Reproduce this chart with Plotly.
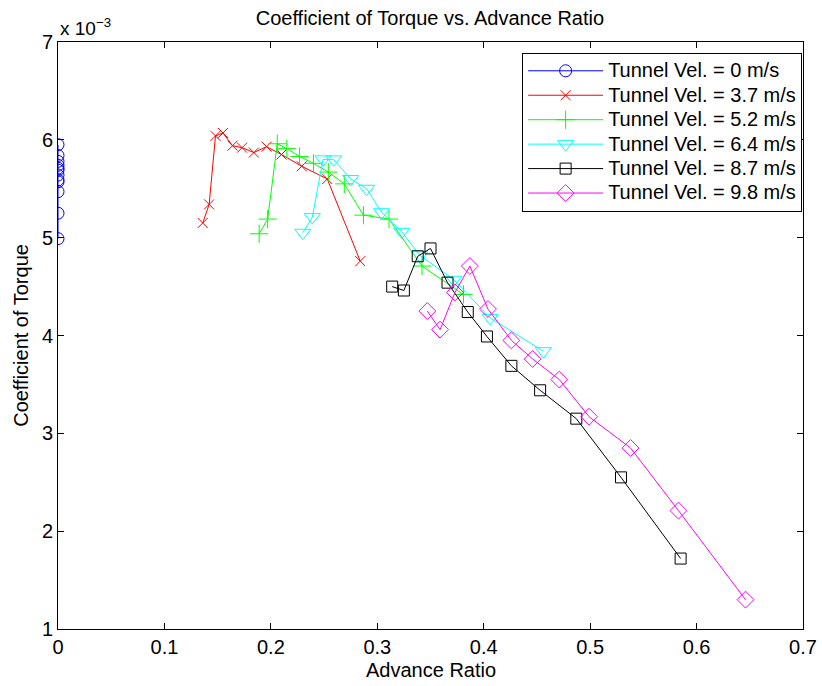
import plotly.graph_objects as go

# Advance ratio (x) and coefficient of torque (y, in units of 1e-3)
adv_0 = [0.0, 0.0, 0.0, 0.0, 0.0, 0.0, 0.0, 0.0, 0.0, 0.0, 0.0, 0.0]
cq_0 = [5.95, 5.84, 5.78, 5.74, 5.71, 5.69, 5.64, 5.59, 5.57, 5.47, 5.25, 4.99]

adv_37 = [0.136, 0.142, 0.148, 0.155, 0.164, 0.173, 0.184, 0.196, 0.210, 0.229, 0.253, 0.284]
cq_37 = [5.15, 5.34, 6.04, 6.07, 5.94, 5.92, 5.87, 5.93, 5.85, 5.73, 5.60, 4.76]

adv_52 = [0.189, 0.197, 0.206, 0.215, 0.227, 0.240, 0.254, 0.269, 0.287, 0.311, 0.342, 0.381]
cq_52 = [5.04, 5.19, 5.96, 5.91, 5.83, 5.76, 5.67, 5.55, 5.23, 5.19, 4.71, 4.42]

adv_64 = [0.230, 0.239, 0.249, 0.259, 0.275, 0.290, 0.304, 0.323, 0.340, 0.372, 0.406, 0.456]
cq_64 = [5.05, 5.21, 5.80, 5.80, 5.60, 5.50, 5.26, 5.06, 4.82, 4.57, 4.18, 3.84]

adv_87 = [0.314, 0.325, 0.338, 0.350, 0.366, 0.385, 0.403, 0.426, 0.453, 0.487, 0.529, 0.585]
cq_87 = [4.50, 4.46, 4.81, 4.89, 4.54, 4.24, 3.99, 3.69, 3.44, 3.15, 2.55, 1.72]

adv_98 = [0.347, 0.359, 0.373, 0.387, 0.404, 0.426, 0.446, 0.471, 0.499, 0.538, 0.583, 0.646]
cq_98 = [4.25, 4.06, 4.44, 4.71, 4.27, 3.95, 3.76, 3.55, 3.17, 2.85, 2.21, 1.30]

names = ["Tunnel Vel. = 0 m/s", "Tunnel Vel. = 3.7 m/s", "Tunnel Vel. = 5.2 m/s",
         "Tunnel Vel. = 6.4 m/s", "Tunnel Vel. = 8.7 m/s", "Tunnel Vel. = 9.8 m/s"]

FONT = "Liberation Sans, Arial, Helvetica, sans-serif"

series = [
    (adv_0, cq_0, "#0000FF", "circle-open", 12),
    (adv_37, cq_37, "#FF0000", "x-thin-open", 10),
    (adv_52, cq_52, "#00FF00", "cross-thin-open", 13),
    (adv_64, cq_64, "#00FFFF", "triangle-down-open", 14),
    (adv_87, cq_87, "#000000", "square-open", 11),
    (adv_98, cq_98, "#FF00FF", "diamond-open", 13),
]

fig = go.Figure()
for (xs, ys, col, sym, sz), nm in zip(series, names):
    fig.add_trace(go.Scatter(
        x=xs, y=ys, mode="lines+markers",
        name="<span style='font-size:20px'>" + nm + "</span>",
        line=dict(color=col, width=1),
        marker=dict(symbol=sym, size=sz, color=col, line=dict(color=col, width=1)),
    ))

fig.update_layout(
    width=822, height=686,
    margin=dict(l=58, r=19, t=42, b=57, autoexpand=False),
    paper_bgcolor="white", plot_bgcolor="white",
    font=dict(family=FONT, size=20, color="black"),
    title=dict(text="Coefficient of Torque vs. Advance Ratio", x=0.523, xanchor="center",
               y=1 - 18 / 686, yanchor="middle", font=dict(size=20, color="black")),
    legend=dict(x=0.623, y=0.982, xanchor="left", yanchor="top",
                bgcolor="white", bordercolor="black", borderwidth=1,
                font=dict(size=16.5, color="black"), itemwidth=75,
                tracegroupgap=0),
    showlegend=True,
)

fig.update_xaxes(
    range=[0, 0.7], dtick=0.1, tick0=0, showgrid=False, zeroline=False,
    showline=True, linecolor="black", linewidth=1, mirror="ticks",
    ticks="inside", ticklen=6, tickcolor="black", automargin=False,
    tickfont=dict(size=20),
)
fig.update_yaxes(
    range=[1, 7], dtick=1, tick0=1, showgrid=False, zeroline=False,
    showline=True, linecolor="black", linewidth=1, mirror="ticks",
    ticks="inside", ticklen=6, tickcolor="black", automargin=False,
    tickfont=dict(size=20),
)

# axis titles
fig.add_annotation(
    text="Advance Ratio", xref="paper", yref="paper",
    x=0.5, y=-(670 - 629) / 586.7, xanchor="center", yanchor="middle",
    showarrow=False, font=dict(size=20, color="black"),
)
fig.add_annotation(
    text="Coefficient of Torque", xref="paper", yref="paper",
    x=-(57.7 - 20) / 745.3, y=0.5, xanchor="center", yanchor="middle",
    textangle=-90, showarrow=False, font=dict(size=20, color="black"),
)

fig.add_annotation(
    text="x 10<sup>\u22123</sup>", xref="paper", yref="paper",
    x=0, y=1, xanchor="left", yanchor="bottom", yshift=1,
    showarrow=False, font=dict(size=19, color="black"),
)

fig.write_html(
    "out.html",
    config={"displayModeBar": False},
    post_script="document.body.style.margin='0px';document.body.style.overflow='hidden';",
)
